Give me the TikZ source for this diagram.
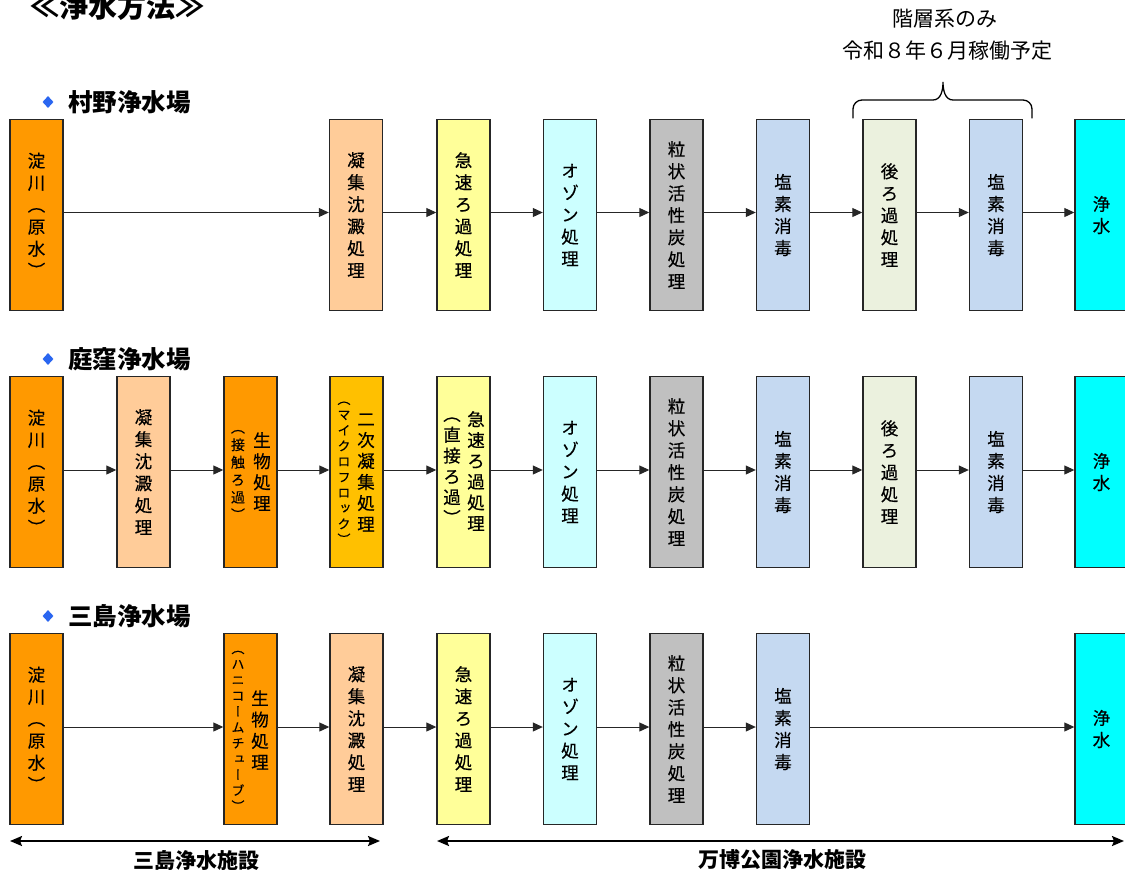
\documentclass[tikz,border=0pt]{standalone}
\usepackage{fontspec}
\setmainfont{Noto Sans CJK JP}
\newfontfamily\vjp[RawFeature=+vert, FakeBold=0.4]{Noto Sans CJK JP}
\usetikzlibrary{arrows.meta,shapes.geometric}
\definecolor{cOrange}{HTML}{FF9900}
\definecolor{cPeach}{HTML}{FFCC99}
\definecolor{cYellow}{HTML}{FFFF99}
\definecolor{cOzone}{HTML}{CCFFFF}
\definecolor{cGac}{HTML}{C0C0C0}
\definecolor{cChlor}{HTML}{C5D9F1}
\definecolor{cPost}{HTML}{EBF1DE}
\definecolor{cClean}{HTML}{00FFFF}
\definecolor{cSecond}{HTML}{FFC000}
\definecolor{cBullet}{HTML}{2A66F0}
\definecolor{cLine}{HTML}{262626}
\makeatletter
\def\vs@end{}
\def\vs#1{\vs@a#1\vs@end}
\def\vs@a#1{#1\vs@b}
\def\vs@b#1{\ifx#1\vs@end\else\\#1\expandafter\vs@b\fi}
\makeatother
\tikzset{
  box/.style={draw=cLine, line width=1.4pt, minimum width=53pt, minimum height=191pt,
    inner sep=0pt, align=center, font=\vjp\fontsize{17.5}{22}\selectfont, text=black},
  ann/.style={inner sep=0pt, align=center, text=black},
  flow/.style={draw=cLine, line width=1pt, -{Triangle[length=10pt,width=9pt]}},
  spanarrow/.style={draw=black, line width=2pt,
    {Stealth[length=12pt,width=10pt,inset=2pt]}-{Stealth[length=12pt,width=10pt,inset=2pt]}},
  head/.style={font=\bfseries\fontsize{24.5}{28}\selectfont, anchor=west, inner sep=0pt},
  bullet/.style={diamond, fill=cBullet, draw=none, minimum width=11pt, minimum height=12pt, inner sep=0pt},
  foot/.style={font=\bfseries\fontsize{21}{25}\selectfont, inner sep=0pt},
  note/.style={font=\fontsize{21}{25}\selectfont, inner sep=0pt},
}
\begin{document}
\begin{tikzpicture}[x=1pt,y=-1pt]
\useasboundingbox (0,0) rectangle (1125,870);
% title
\node[font=\bfseries\fontsize{29}{33}\selectfont, anchor=west, inner sep=0pt] (title) at (30,7) {≪浄水方法≫};
% note on top
\node[note] (note1) at (945,19) {階層系のみ};
\node[note] (note2) at (947,51) {令和８年６月稼働予定};
\draw[line width=1.3pt, line cap=round] (853,118) -- (853,109) to[out=90,in=180] (862,100) -- (933,100)
  to[out=0,in=270] (943,82) to[out=270,in=180] (953,100) -- (1023,100) to[out=0,in=90] (1032,109) -- (1032,118);
% headings
\node[bullet] (b1) at (48,102) {};
\node[head] (h1) at (68,102) {村野浄水場};
\node[bullet] (b2) at (48,359) {};
\node[head] (h2) at (68,359) {庭窪浄水場};
\node[bullet] (b3) at (48,616) {};
\node[head] (h3) at (68,616) {三島浄水場};
% ---------- row 1 ----------
\node[box, fill=cOrange] (a1) at (36.5,215) {\vs{淀川（原水）}};
\node[box, fill=cPeach]  (a4) at (356,215) {\vs{凝集沈澱処理}};
\node[box, fill=cYellow] (a5) at (463.5,215) {\vs{急速ろ過処理}};
\node[box, fill=cOzone]  (a6) at (570,215) {\vs{オゾン処理}};
\node[box, fill=cGac]    (a7) at (676.5,215) {\vs{粒状活性炭処理}};
\node[box, fill=cChlor]  (a8) at (783,215) {\vs{塩素消毒}};
\node[box, fill=cPost]   (a9) at (889.5,215) {\vs{後ろ過処理}};
\node[box, fill=cChlor]  (a10) at (996,215) {\vs{塩素消毒}};
\node[box, fill=cClean]  (a11) at (1101.5,215) {\vs{浄水}};
\foreach \s/\t in {a1/a4,a4/a5,a5/a6,a6/a7,a7/a8,a8/a9,a9/a10,a10/a11}
  \draw[flow] ([yshift=2.5pt]\s.east) -- ([yshift=2.5pt]\t.west);
% ---------- row 2 ----------
\node[box, fill=cOrange] (b1x) at (36.5,472) {\vs{淀川（原水）}};
\node[box, fill=cPeach]  (b2x) at (143.5,472) {\vs{凝集沈澱処理}};
\node[box, fill=cOrange] (b3x) at (250.5,472) {};
\node[ann, font=\vjp\fontsize{17.5}{21}\selectfont] (b3m) at (262,471.5) {\vs{生物処理}};
\node[ann, font=\vjp\fontsize{14}{17.5}\selectfont] (b3a) at (238,475) {\vs{（接触ろ過）}};
\node[box, fill=cSecond] (b4x) at (356.5,472) {};
\node[ann, font=\vjp\fontsize{17.5}{21}\selectfont] (b4m) at (366,472.5) {\vs{二次凝集処理}};
\node[ann, font=\vjp\fontsize{13}{15.6}\selectfont] (b4a) at (344,473) {\vs{（マイクロフロック）}};
\node[box, fill=cYellow] (b5x) at (463.5,472) {};
\node[ann, font=\vjp\fontsize{17.5}{20.8}\selectfont] (b5m) at (476,471) {\vs{急速ろ過処理}};
\node[ann, font=\vjp\fontsize{17.5}{20.8}\selectfont] (b5a) at (452,471) {\vs{（直接ろ過）}};
\node[box, fill=cOzone]  (b6x) at (570,472) {\vs{オゾン処理}};
\node[box, fill=cGac]    (b7x) at (676.5,472) {\vs{粒状活性炭処理}};
\node[box, fill=cChlor]  (b8x) at (783,472) {\vs{塩素消毒}};
\node[box, fill=cPost]   (b9x) at (889.5,472) {\vs{後ろ過処理}};
\node[box, fill=cChlor]  (b10x) at (996,472) {\vs{塩素消毒}};
\node[box, fill=cClean]  (b11x) at (1101.5,472) {\vs{浄水}};
\foreach \s/\t in {b1x/b2x,b2x/b3x,b3x/b4x,b4x/b5x,b5x/b6x,b6x/b7x,b7x/b8x,b8x/b9x,b9x/b10x,b10x/b11x}
  \draw[flow] ([yshift=2pt]\s.east) -- ([yshift=2pt]\t.west);
% ---------- row 3 ----------
\node[box, fill=cOrange] (c1) at (36.5,729) {\vs{淀川（原水）}};
\node[box, fill=cOrange] (c3) at (250.5,729) {};
\node[ann, font=\vjp\fontsize{17.5}{21.3}\selectfont] (c3m) at (260,730) {\vs{生物処理}};
\node[ann, font=\vjp\fontsize{13}{15.8}\selectfont] (c3a) at (238,731) {\vs{（ハニコームチューブ）}};
\node[box, fill=cPeach]  (c4) at (356.5,729) {\vs{凝集沈澱処理}};
\node[box, fill=cYellow] (c5) at (463.5,729) {\vs{急速ろ過処理}};
\node[box, fill=cOzone]  (c6) at (570,729) {\vs{オゾン処理}};
\node[box, fill=cGac]    (c7) at (676.5,729) {\vs{粒状活性炭処理}};
\node[box, fill=cChlor]  (c8) at (783,729) {\vs{塩素消毒}};
\node[box, fill=cClean]  (c11) at (1101.5,729) {\vs{浄水}};
\foreach \s/\t in {c1/c3,c3/c4,c4/c5,c5/c6,c6/c7,c7/c8,c8/c11}
  \draw[flow] ([yshift=2pt]\s.east) -- ([yshift=2pt]\t.west);
% ---------- facility spans ----------
\coordinate (L1) at (10,841);
\coordinate (L2) at (380,841);
\coordinate (R1) at (437,841);
\coordinate (R2) at (1124,841);
\draw[spanarrow] (L1) -- (L2);
\draw[spanarrow] (R1) -- (R2);
\node[foot] (fl) at (196,860) {三島浄水施設};
\node[foot] (fr) at (782,860) {万博公園浄水施設};
\end{tikzpicture}
\end{document}
